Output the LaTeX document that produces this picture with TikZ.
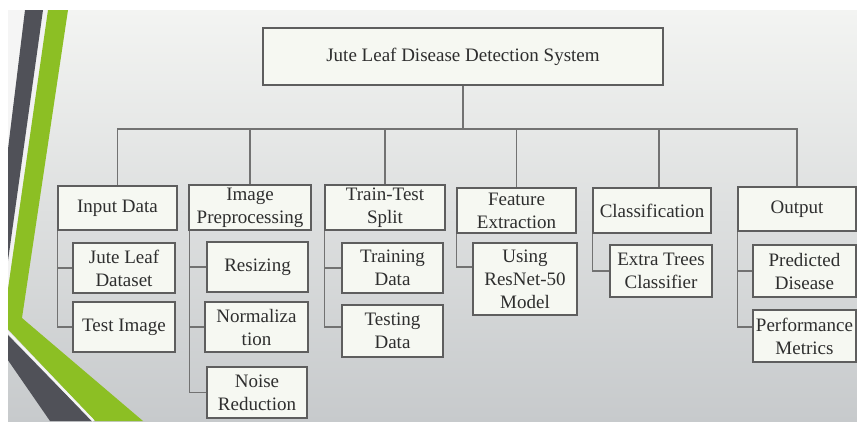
\documentclass[tikz,border=0pt]{standalone}
\usepackage{fontspec}
\setmainfont{Liberation Serif}
\definecolor{bgtop}{HTML}{F3F4F2}
\definecolor{bgmid}{HTML}{E0E2E2}
\definecolor{bgbot}{HTML}{C7CACC}
\definecolor{leafgreen}{HTML}{8CBF24}
\definecolor{slate}{HTML}{505158}
\definecolor{boxfill}{HTML}{F6F8F2}
\definecolor{boxline}{HTML}{5E5E5E}
\definecolor{wire}{HTML}{727272}
\definecolor{ink}{HTML}{2E2E2E}
\tikzset{
  box/.style={draw=boxline, fill=boxfill, line width=1.4pt, text=ink,
    inner sep=0pt, align=center, font=\fontsize{19}{23}\selectfont},
  conn/.style={draw=wire, line width=1.2pt},
}
\begin{document}
\begin{tikzpicture}[x=1pt,y=-1pt]
  % canvas and backdrop
  \fill[white] (0,0) rectangle (857,421);
  \shade[top color=bgtop, middle color=bgmid, bottom color=bgbot] (8,10) rectangle (857,421);
  \useasboundingbox (0,0) rectangle (857,421);

  % decorative stripes on the left edge
  \begin{scope}
    \clip (8,10) rectangle (857,421);
    \fill[white!92!gray] (3,10) -- (25,10) -- (3,190) -- cycle;
    \fill[white!90!gray] (43,10) -- (48,10) -- (3,324) -- (3,280) -- cycle;
    \fill[slate] (25,10) -- (43,10) -- (6,275) -- (3,275) -- (3,190) -- cycle;
    \fill[leafgreen] (48,10) -- (68,10) -- (22,318) -- (143,421) -- (95,421) -- (3,324) -- cycle;
    \fill[slate] (3,330) -- (92,421) -- (50,421) -- (3,353) -- cycle;
    \draw[white!92!gray, line width=2.4pt] (3,327) -- (93.5,421);
  \end{scope}

  % top node
  \node[box, minimum width=400, minimum height=57] (title) at (463,56.5) {Jute Leaf Disease Detection System};

  % stage nodes
  \node[box, minimum width=119, minimum height=44] (in) at (117.5,208) {Input Data};
  \node[box, minimum width=122, minimum height=45] (ip) at (250,207.5) {Image\\Preprocessing};
  \node[box, minimum width=120, minimum height=45] (tt) at (385,207.5) {Train-Test\\Split};
  \node[box, minimum width=119, minimum height=45] (fe) at (516.5,210.5) {Feature\\Extraction};
  \node[box, minimum width=118, minimum height=45] (cl) at (652,210.5) {Classification};
  \node[box, minimum width=118, minimum height=44] (out) at (797,209) {Output};

  % detail nodes
  \node[box, minimum width=102, minimum height=50] (jl) at (124,268) {Jute Leaf\\Dataset};
  \node[box, minimum width=102, minimum height=50] (ti) at (124,327) {Test Image};
  \node[box, minimum width=101, minimum height=50] (rs) at (257.5,267) {Resizing};
  \node[box, minimum width=103, minimum height=50] (nm) at (256.5,327) {Normaliza\\tion};
  \node[box, minimum width=100, minimum height=51] (nr) at (257,392.5) {Noise\\Reduction};
  \node[box, minimum width=101, minimum height=50] (trd) at (392.5,268) {Training\\Data};
  \node[box, minimum width=101, minimum height=52] (ted) at (392.5,331) {Testing\\Data};
  \node[box, minimum width=104, minimum height=72] (rn) at (525,279) {Using\\ResNet-50\\Model};
  \node[box, minimum width=102, minimum height=52] (et) at (661,271) {Extra Trees\\Classifier};
  \node[box, minimum width=103, minimum height=52] (pd) at (804.5,271) {Predicted\\Disease};
  \node[box, minimum width=103, minimum height=52] (pm) at (804.5,336) {Performance\\Metrics};

  % bus from the top node to the stages
  \coordinate (bus) at (463,129);
  \coordinate (cldrop) at ([xshift=7pt]cl.north);
  \draw[conn] (title.south) -- (title.south |- bus);
  \draw[conn] (in.north) -- (in.north |- bus) -- (out.north |- bus) -- (out.north);
  \draw[conn] (ip.north) -- (ip.north |- bus);
  \draw[conn] (tt.north) -- (tt.north |- bus);
  \draw[conn] (fe.north) -- (fe.north |- bus);
  \draw[conn] (cldrop) -- (cldrop |- bus);

  % branches from each stage to its details
  \coordinate (tedin) at ([yshift=4pt]ted.west);
  \coordinate (rnin) at ([yshift=12pt]rn.west);
  \coordinate (pmin) at ([yshift=9pt]pm.west);
  \draw[conn] (in.south west) |- (ti.west);
  \draw[conn] (in.south west |- jl.west) -- (jl.west);
  \draw[conn] ([xshift=1pt]ip.south west) |- (nr.west);
  \draw[conn] ([xshift=1pt]ip.south west |- rs.west) -- (rs.west);
  \draw[conn] ([xshift=1pt]ip.south west |- nm.west) -- (nm.west);
  \draw[conn] (tt.south west) |- (tedin);
  \draw[conn] (tt.south west |- trd.west) -- (trd.west);
  \draw[conn] (fe.south west) |- (rnin);
  \draw[conn] (cl.south west) |- (et.west);
  \draw[conn] (out.south west) |- (pmin);
  \draw[conn] (out.south west |- pd.west) -- (pd.west);
\end{tikzpicture}
\end{document}
